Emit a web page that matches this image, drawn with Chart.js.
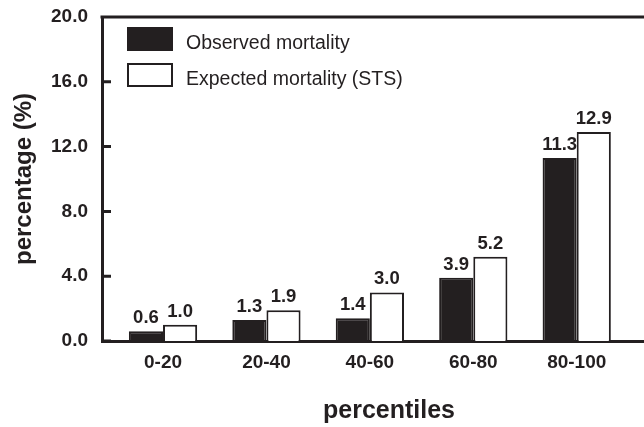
<!DOCTYPE html>
<html>
<head>
<meta charset="utf-8">
<script src="https://cdn.jsdelivr.net/npm/chart.js@4.4.0/dist/chart.umd.min.js"></script>
<style>
  html, body { margin: 0; padding: 0; background: #fff; overflow: hidden; }
  canvas { display: block; }
</style>
</head>
<body>
<!-- the original figure is cut off on the right, so the canvas runs past the window -->
<canvas id="myChart" width="676" height="427"></canvas>
<script>
// data
const percentiles = ['0-20', '20-40', '40-60', '60-80', '80-100']
const observed = [0.6, 1.3, 1.4, 3.9, 11.3]
const expected = [1.0, 1.9, 3.0, 5.2, 12.9]
const yTicks = [0, 4, 8, 12, 16, 20]
const seriesNames = ['Observed mortality', 'Expected mortality (STS)']

const ink = '#231f20'
const font = 'Liberation Sans, Arial, sans-serif'

Chart.defaults.font.family = font
Chart.defaults.color = ink

// value labels go under the bars, so the white bar covers the edge of "11.3" like the original
const valueLabels = {
  id: 'valueLabels',
  beforeDatasetsDraw(chart) {
    let ctx = chart.ctx
    ctx.save()
    ctx.font = 'bold 18.5px ' + font
    ctx.fillStyle = ink
    ctx.textAlign = 'center'
    ctx.textBaseline = 'alphabetic'
    chart.data.datasets.forEach((ds, i) => {
      chart.getDatasetMeta(i).data.forEach((bar, j) => {
        ctx.fillText(ds.data[j].y.toFixed(1), bar.x, bar.y - 8)
      })
    })
    ctx.restore()
  }
}

// top frame line + inward tick marks on the y axis
const frame = {
  id: 'frame',
  afterDraw(chart) {
    let ctx = chart.ctx
    let area = chart.chartArea
    let y = chart.scales.y
    ctx.save()
    ctx.strokeStyle = ink
    ctx.lineWidth = 3
    ctx.beginPath()
    ctx.moveTo(area.left - 1.5, area.top)
    ctx.lineTo(area.right, area.top)
    y.ticks.forEach(t => {
      let py = y.getPixelForValue(t.value)
      ctx.moveTo(area.left, py)
      ctx.lineTo(area.left + 9, py)
    })
    ctx.stroke()
    ctx.restore()
  }
}

// legend stacked in the top-left corner of the plot
const boxLegend = {
  id: 'boxLegend',
  afterDraw(chart) {
    let ctx = chart.ctx
    let area = chart.chartArea
    ctx.save()
    ctx.font = '19.5px ' + font
    ctx.textBaseline = 'alphabetic'
    chart.data.datasets.forEach((ds, i) => {
      let x = area.left + 26
      let top = area.top + 11 + i * 36
      ctx.fillStyle = ds.backgroundColor
      ctx.fillRect(x, top, 44, 22)
      ctx.lineWidth = 2
      ctx.strokeStyle = ds.borderColor
      ctx.strokeRect(x, top, 44, 22)
      ctx.fillStyle = ink
      ctx.fillText(ds.label, x + 58, top + 21)
    })
    ctx.restore()
  }
}

new Chart('myChart', {
  type: 'bar',
  data: {
    datasets: [
      {
        label: seriesNames[0],
        data: observed.map((v, i) => ({x: i + 1, y: v})),
        backgroundColor: ink,
        borderColor: ink,
        borderWidth: 2
      },
      {
        label: seriesNames[1],
        data: expected.map((v, i) => ({x: i + 1, y: v})),
        backgroundColor: '#ffffff',
        borderColor: ink,
        borderWidth: 2
      }
    ]
  },
  options: {
    responsive: false,
    animation: false,
    categoryPercentage: 0.66,
    barPercentage: 1,
    layout: {padding: {top: 17, left: 0, right: 0, bottom: 0}},
    plugins: {
      legend: {display: false},
      tooltip: {enabled: false}
    },
    scales: {
      x: {
        type: 'linear',
        min: 0.41,
        max: 5.96,
        offset: false,
        afterBuildTicks: axis => { axis.ticks = percentiles.map((p, i) => ({value: i + 1})) },
        afterFit: axis => { axis.height = 86; axis.paddingLeft = 0; axis.paddingRight = 0 },
        grid: {display: false, drawTicks: false},
        border: {color: ink, width: 3},
        ticks: {
          callback: v => percentiles[v - 1],
          font: {size: 19, weight: 'bold'},
          padding: 10,
          maxRotation: 0,
          autoSkip: false
        },
        title: {display: true, text: 'percentiles', font: {size: 25, weight: 'bold'}, padding: {bottom: 1}}
      },
      y: {
        min: 0,
        max: 20,
        afterBuildTicks: axis => { axis.ticks = yTicks.map(v => ({value: v})) },
        afterFit: axis => { axis.width = 102; axis.paddingTop = 0; axis.paddingBottom = 0 },
        grid: {display: false, drawTicks: false},
        border: {color: ink, width: 3},
        ticks: {
          callback: v => v.toFixed(1),
          font: {size: 19, weight: 'bold'},
          padding: 14
        },
        title: {display: true, text: 'percentage (%)', font: {size: 24, weight: 'bold'}, padding: {top: 10}}
      }
    }
  },
  plugins: [valueLabels, frame, boxLegend]
})
</script>
</body>
</html>
